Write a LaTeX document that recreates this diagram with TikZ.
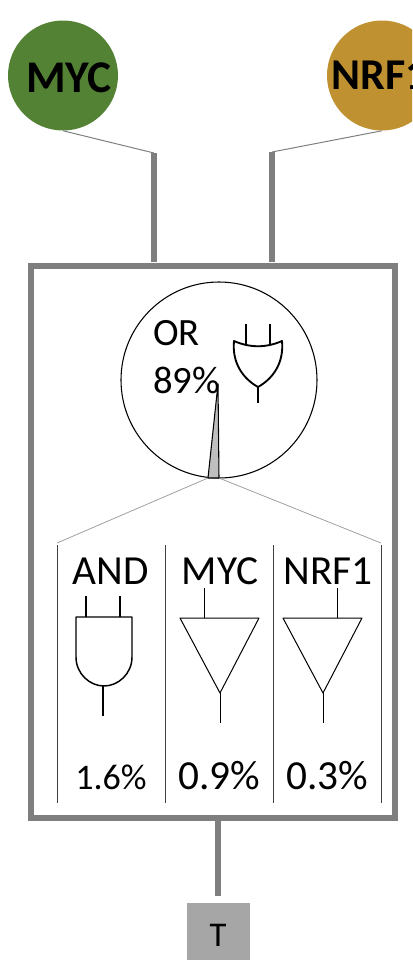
\documentclass[tikz,border=0pt]{standalone}
\usepackage{fontspec}
\setmainfont{Carlito}
\definecolor{mycg}{HTML}{548235}
\definecolor{nrfo}{HTML}{BF9130}
\definecolor{thick}{HTML}{7F7F7F}
\tikzset{
  tf circle/.style={circle,inner sep=0pt,minimum size=82.5pt},
  tf label/.style={font=\fontsize{34}{34}\selectfont\bfseries,inner sep=0pt,anchor=base},
  lbl/.style={font=\fontsize{29}{29}\selectfont,inner sep=0pt,anchor=base},
  lblb/.style={font=\fontsize{31}{31}\selectfont,inner sep=0pt,anchor=base},
  lblw/.style={lbl,anchor=base west},
  pct/.style={font=\fontsize{27}{27}\selectfont,inner sep=0pt,anchor=base},
  heavy/.style={draw=thick,line width=4.5pt},
  thin link/.style={draw=thick,line width=0.75pt},
  pale link/.style={draw=black!40,line width=0.55pt},
  gate/.style={draw=black,line width=0.75pt},
  ogate/.style={draw=black,line width=1.4pt},
  divider/.style={draw=black!75,line width=0.7pt}
}
\begin{document}
\begin{tikzpicture}[x=0.75pt,y=-0.75pt]
\clip (0,0) rectangle (412,960);
\useasboundingbox (0,0) rectangle (412,960);
% transcription factors
\node[tf circle,fill=mycg] (myc) at (63,75.5) {};
\node[tf circle,fill=nrfo] (nrf) at (382,75.5) {};
\node[tf label] (myct) at (69,92) {MYC};
\node[tf label,anchor=base west,font=\fontsize{33}{33}\selectfont\bfseries] (nrft) at (331,89) {NRF1};
% wires in
\coordinate (ma) at (154,153);
\coordinate (mb) at (154,262);
\coordinate (na) at (272,152);
\coordinate (nb) at (272,262);
\draw[thin link] (myc.south) -- (ma);
\draw[thin link] (nrf.south) -- (na);
\draw[heavy] (ma) -- (mb);
\draw[heavy] (na) -- (nb);
% main box
\node[draw=thick,line width=4.5pt,minimum width=273pt,minimum height=414pt,inner sep=0pt] (box) at (213,542) {};
% OR circle
\node[circle,draw=black,line width=0.8pt,minimum size=147pt,inner sep=0pt] (orc) at (219,380) {};
\coordinate (wl) at (208,478);
\coordinate (wr) at (219,478);
\coordinate (wa) at (218,384);
\draw[fill=black!25,draw=black,line width=0.8pt,line join=round] (wa) -- (wl) -- (wr) -- cycle;
\node[lblw] (ort) at (153,345) {OR};
\node[lblw] (orp) at (153,393) {89\%};
% OR gate
\draw[ogate,line join=round] (234,341) .. controls (250,348) and (266,348) .. (282,341)
  .. controls (284,362) and (274,378) .. (258,387)
  .. controls (242,378) and (232,362) .. (234,341) -- cycle;
\draw[ogate] (246,324) -- (246,345);
\draw[ogate] (270,324) -- (270,345);
\draw[ogate] (258,387) -- (258,403);
% fan-out
\coordinate (d1t) at (57,545);
\coordinate (d1b) at (57,803);
\coordinate (d2t) at (165,545);
\coordinate (d2b) at (165,803);
\coordinate (d3t) at (273,545);
\coordinate (d3b) at (273,803);
\coordinate (d4t) at (381,545);
\coordinate (d4b) at (381,803);
\coordinate (fl) at (57,543);
\coordinate (fr) at (381,543);
\draw[pale link] (wl) -- (fl);
\draw[pale link] (wr) -- (fr);
\draw[divider] (d1t) -- (d1b);
\draw[divider] (d2t) -- (d2b);
\draw[divider] (d3t) -- (d3b);
\draw[divider] (d4t) -- (d4b);
% labels
\node[lblb] (andt) at (111,584) {AND};
\node[lblb] (mt) at (220,584) {MYC};
\node[lblb] (nt) at (328,584) {NRF1};
\node[pct] (andp) at (111,789) {1.6\%};
\node[lblb] (mp) at (219,789) {0.9\%};
\node[lblb] (np) at (327,789) {0.3\%};
% AND gate
\draw[ogate,line width=1.1pt,line join=round] (76,617) -- (132,617) -- (132,657)
  .. controls (132,674) and (118,686) .. (104,686)
  .. controls (90,686) and (76,674) .. (76,657) -- cycle;
\draw[gate,line width=1pt] (86,596) -- (86,617);
\draw[gate,line width=1pt] (120,596) -- (120,617);
\draw[gate,line width=1pt] (103,686) -- (103,716);
% buffers
\draw[gate,line join=round] (180,618) -- (259,618) -- (220,693) -- cycle;
\draw[gate] (204,588) -- (204,618);
\draw[gate] (220,693) -- (220,723);
\draw[gate,line join=round] (283,618) -- (362,618) -- (323,693) -- cycle;
\draw[gate] (337,588) -- (337,618);
\draw[gate] (323,693) -- (323,723);
% output
\node[fill=black!35,minimum width=47pt,minimum height=43pt,inner sep=0pt] (tbox) at (218.5,932) {};
\node[font=\fontsize{26}{26}\selectfont,inner sep=0pt,anchor=base] (tt) at (218,946) {T};
\coordinate (ob) at (218,821);
\coordinate (oe) at (218,896);
\draw[heavy] (ob) -- (oe);
\end{tikzpicture}
\end{document}
